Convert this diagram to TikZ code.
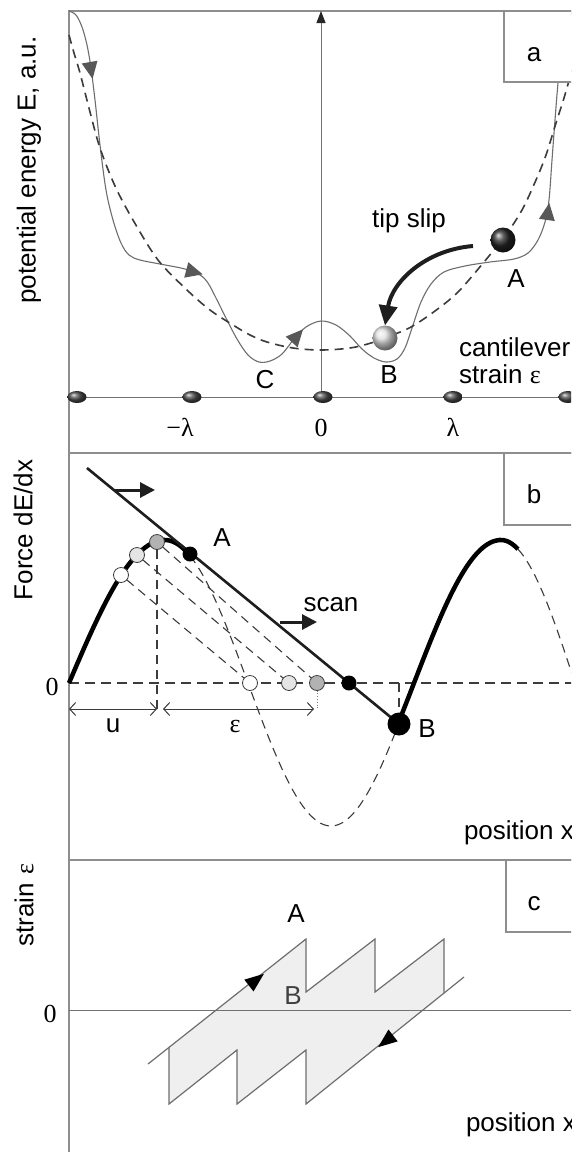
\documentclass[tikz,border=0pt]{standalone}
\usepackage{fontspec}
\setmainfont{Liberation Sans}
\newfontfamily\serifface{Liberation Serif}
\usetikzlibrary{arrows.meta,shapes.geometric}
\definecolor{framegray}{HTML}{8E8E8E}
\definecolor{curvegray}{HTML}{6E6E6E}
\definecolor{dashgray}{HTML}{3C3C3C}
\definecolor{headgray}{HTML}{585858}
\definecolor{fillgray}{HTML}{EFEFEF}
\definecolor{darkline}{HTML}{1E1E1E}
\begin{document}
\begin{tikzpicture}[x=1pt,y=-1pt,
  every node/.style={inner sep=0pt,outer sep=0pt},
  lbl/.style={font=\fontsize{26}{30}\selectfont,anchor=base},
  slbl/.style={font=\serifface\fontsize{26}{30}\selectfont,anchor=base},
  frameline/.style={draw=framegray,line width=1.3pt},
  axisline/.style={draw=framegray!80!black,line width=1pt},
  solidcurve/.style={draw=curvegray,line width=1.1pt},
  dashcurve/.style={draw=dashgray,line width=1.6pt,dash pattern=on 9pt off 6pt},
  helper/.style={draw=dashgray,line width=1.1pt,dash pattern=on 9pt off 6pt},
  thickcurve/.style={draw=black,line width=4.5pt},
  scanline/.style={draw=darkline,line width=2.6pt},
  pusharrow/.style={draw=darkline,line width=3pt,-{Triangle[length=15pt,width=15pt]}},
  slip/.style={draw=darkline,line width=4pt,-{Triangle[length=20pt,width=18pt]}},
  dimarrow/.style={draw=dashgray,line width=1pt,{Straight Barb[length=6pt,width=13pt]}-{Straight Barb[length=6pt,width=13pt]}},
  axball/.style={ellipse,minimum width=19pt,minimum height=12pt,ball color=black!70},
  bigball/.style={circle,minimum size=25pt},
  fdot/.style={circle,minimum size=15pt,draw=dashgray,line width=0.8pt},
  kdot/.style={circle,minimum size=15pt,fill=black},
  labelbox/.style={draw=framegray,line width=1.3pt,fill=white},
  curvetip/.style={fill=headgray},
  ctip/.style={fill=black},
  hyst/.style={draw=curvegray,line width=1.2pt,line join=miter}
]
\path[use as bounding box] (0,0) rectangle (571,1152);
\clip (0,0) rectangle (571,1152);
\fill[white] (0,0) rectangle (571,1152);

% ---------- frame ----------
\draw[frameline] (69,1152) -- (69,11) -- (575,11);
\draw[frameline] (69,453) -- (575,453);
\draw[frameline] (69,860) -- (575,860);

% ---------- panel a ----------
\coordinate (origA) at (321,397);
\coordinate (topA) at (321,11);
\draw[axisline] (69,397) -- (575,397);
\draw[axisline,-{Triangle[length=12pt,width=9pt,color=black!85]}] (origA) -- (topA);

\draw[solidcurve] plot[smooth,tension=0.55] coordinates {
(69,11) (76,15) (82,27) (87,45) (91,68) (95,100) (100,145) (106,190) (113,220)
(121,243) (129,255) (140,260) (160,264) (185,269) (200,275) (208,283) (216,298)
(226,318) (237,339) (248,355) (259,362) (270,361) (282,354) (294,339) (306,327)
(321,321) (336,325) (350,336) (362,349) (374,358) (386,362) (397,359) (405,348)
(412,328) (421,302) (431,284) (444,272) (465,266) (490,262) (514,259) (528,253)
(538,240) (545,222) (549,200) (552,160) (555,120) (558,83) (562,45) (567,22) (575,8)};

\draw[dashcurve] plot[smooth,tension=0.55] coordinates {
(69,35) (74,53) (80,73) (90,112) (100,148) (115,186) (133,220) (158,260) (187,290)
(210,310) (233,325) (250,335) (267,342) (293,348) (321,350) (350,348) (371,343)
(390,336) (411,327) (435,311) (458,292) (484,262) (505,236) (522,210) (536,180)
(546,155) (556,123) (564,98) (572,70)};

\fill[curvetip,shift={(91,70)},rotate=-80] (9,0) -- (-8,8) -- (-8,-8) -- cycle;
\fill[curvetip,shift={(194,272)},rotate=-15] (9,0) -- (-8,8) -- (-8,-8) -- cycle;
\fill[curvetip,shift={(297,336)},rotate=48] (9,0) -- (-8,8) -- (-8,-8) -- cycle;
\fill[curvetip,shift={(548,212)},rotate=82] (9,0) -- (-8,8) -- (-8,-8) -- cycle;

\node[axball] (s1) at (77,397) {};
\node[axball] (s2) at (192,397) {};
\node[axball] (s3) at (323,397) {};
\node[axball] (s4) at (453,397) {};
\node[axball] (s5) at (568,397) {};

\node[bigball,ball color=black!85] (ballA) at (503,240) {};
\node[bigball,ball color=gray!25] (ballB) at (385,338) {};
\coordinate (slipstart) at (473,246);
\draw[slip] (slipstart) .. controls (425,250) and (392,282) .. (ballB.north);

\draw[labelbox] (504,11) rectangle (580,82);
\node[lbl] (la) at (534,61) {a};
\node[lbl] (tipslip) at (409,227) {tip slip};
\node[lbl] (lA) at (516,287) {A};
\node[lbl] (lB) at (389,383) {B};
\node[lbl] (lC) at (265,388) {C};
\node[lbl,anchor=base west] (cant1) at (459,356) {cantilever};
\node[lbl,anchor=base west] (cant2) at (459,383) {strain {\serifface ε}};
\node[slbl] (mlam) at (180,436) {−λ};
\node[slbl] (zlam) at (321,436) {0};
\node[slbl] (plam) at (453,436) {λ};
\node[lbl,anchor=center,rotate=90] (ylabA) at (29,170) {potential energy E, a.u.};

% ---------- panel b ----------
\draw[helper,dash pattern=on 10pt off 6pt] (69,683) -- (575,683);
\draw[thickcurve] plot[domain=69:165,samples=40] (\x,{683-143*sin((\x-69)*0.9375)})
  -- plot[domain=165:190,samples=10] (\x,{683-143*cos((\x-165)*1.08434)});
\draw[helper] plot[domain=190:399,samples=60] (\x,{683-143*cos((\x-165)*1.08434)});
\draw[thickcurve] plot[domain=399:501,samples=40] (\x,{683-143*sin((\x-414)*1.03448)})
  -- plot[domain=501:518,samples=8] (\x,{683-143*cos((\x-501)*1.21622)});
\draw[helper] plot[domain=518:575,samples=25] (\x,{683-143*cos((\x-501)*1.21622)});

\coordinate (lineTop) at (87,468);
\coordinate (Bpos) at (399,724);
\draw[scanline] (lineTop) -- (Bpos);

\coordinate (arrA0) at (115,490);
\coordinate (arrA1) at (155,490);
\draw[pusharrow] (arrA0) -- (arrA1);
\coordinate (arrB0) at (280,622);
\coordinate (arrB1) at (317,622);
\draw[pusharrow] (arrB0) -- (arrB1);

\coordinate (uStart) at (69,709);
\coordinate (uEnd) at (157,709);
\coordinate (eStart) at (163,709);
\coordinate (eEnd) at (314,709);
\coordinate (eTick) at (317,709);
\coordinate (zB) at (399,683);

\node[fdot,fill=white] (w1) at (121,575) {};
\node[fdot,fill=gray!20] (l1) at (137,555) {};
\node[fdot,fill=gray!60] (g1) at (157,542) {};
\node[fdot,fill=white] (w2) at (250,683) {};
\node[fdot,fill=gray!20] (l2) at (289,683) {};
\node[fdot,fill=gray!60] (g2) at (317,683) {};

\draw[helper] (w1) -- (w2);
\draw[helper] (l1) -- (l2);
\draw[helper] (g1) -- (g2);
\draw[helper] (g1) -- (uEnd);
\draw[helper] (zB) -- (Bpos);
\draw[draw=gray,line width=0.8pt,dotted] (g2) -- (eTick);
\draw[dimarrow] (uStart) -- (uEnd);
\draw[dimarrow] (eStart) -- (eEnd);

\node[kdot] (k1) at (190,554) {};
\node[kdot] (k2) at (349,683) {};
\node[circle,minimum size=23pt,fill=black] (Bdot) at (Bpos) {};

\draw[labelbox] (504,453) rectangle (580,525);
\node[lbl] (lb) at (534,503) {b};
\node[lbl] (bA) at (222,546) {A};
\node[lbl] (scan) at (331,611) {scan};
\node[slbl] (bzero) at (52,695) {0};
\node[lbl] (lu) at (113,732) {u};
\node[slbl] (leps) at (235,732) {ε};
\node[lbl] (bB) at (427,737) {B};
\node[lbl,anchor=base west] (posb) at (464,839) {position x};
\node[lbl,anchor=center,rotate=90] (ylabB) at (23,530) {Force dE/dx};

% ---------- panel c ----------
\coordinate (c1) at (148,1064);
\coordinate (c2) at (169,1048);
\coordinate (t1) at (306,939);
\coordinate (t1b) at (306,992);
\coordinate (t2) at (375,939);
\coordinate (t2b) at (375,992);
\coordinate (t3) at (444,939);
\coordinate (t3b) at (444,993);
\coordinate (ce) at (464,977);
\coordinate (b3) at (306,1104);
\coordinate (b3t) at (306,1050);
\coordinate (b2) at (237,1104);
\coordinate (b2t) at (237,1050);
\coordinate (b1) at (169,1104);

\fill[fillgray] (c2) -- (t1) -- (t1b) -- (t2) -- (t2b) -- (t3) -- (t3b) -- (b3)
  -- (b3t) -- (b2) -- (b2t) -- (b1) -- cycle;
\draw[axisline] (69,1010) -- (575,1010);
\draw[hyst] (c1) -- (t1) -- (t1b) -- (t2) -- (t2b) -- (t3) -- (t3b);
\draw[hyst] (ce) -- (b3) -- (b3t) -- (b2) -- (b2t) -- (b1) -- (c2);
\fill[ctip,shift={(256,980)},rotate=38] (10,0) -- (-9,7.5) -- (-9,-7.5) -- cycle;
\fill[ctip,shift={(386,1041)},rotate=218] (10,0) -- (-9,7.5) -- (-9,-7.5) -- cycle;

\draw[labelbox] (506,860) rectangle (580,932);
\node[lbl] (lc) at (534,910) {c};
\node[lbl] (cA) at (296,922) {A};
\node[lbl,text=black!75] (cB) at (293,1004) {B};
\node[slbl] (czero) at (50,1022) {0};
\node[lbl,anchor=base west] (posc) at (466,1131) {position x};
\node[lbl,anchor=center,rotate=90] (ylabC) at (24,905) {strain\hspace{0.35em}{\serifface ε}};
\end{tikzpicture}
\end{document}
